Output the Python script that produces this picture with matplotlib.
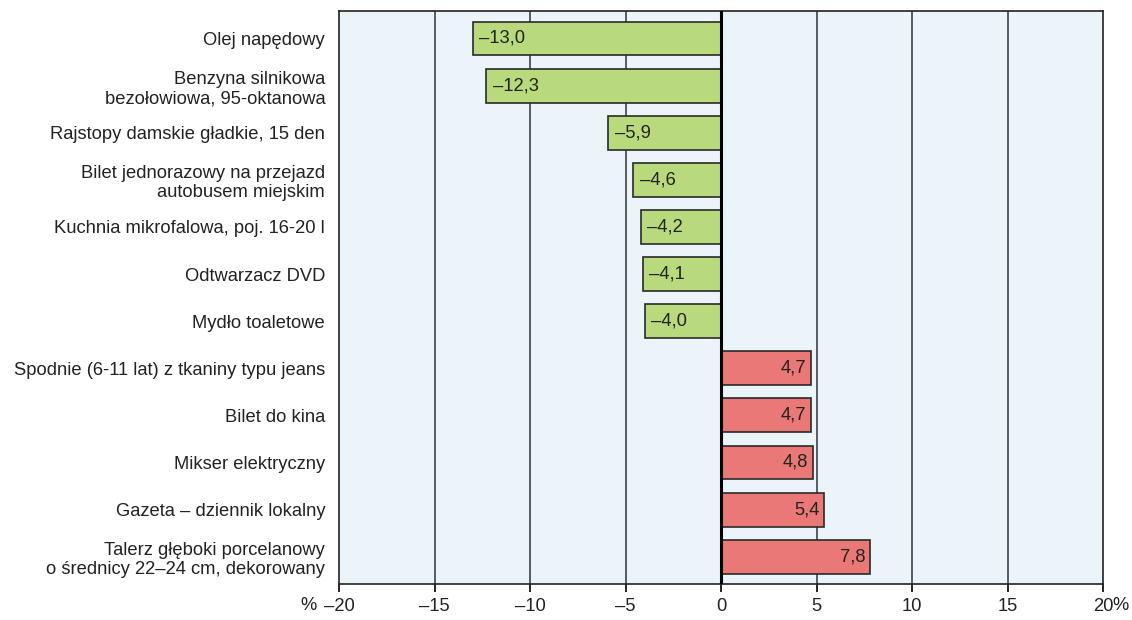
import numpy as np
import matplotlib.pyplot as plt
from matplotlib.transforms import offset_copy

plt.rcParams['font.family'] = ['Liberation Sans', 'DejaVu Sans']

# Data
categories = [
    "Olej napędowy",
    "Benzyna silnikowa\nbezołowiowa, 95-oktanowa",
    "Rajstopy damskie gładkie, 15 den",
    "Bilet jednorazowy na przejazd\nautobusem miejskim",
    "Kuchnia mikrofalowa, poj. 16-20 l",
    "Odtwarzacz DVD",
    "Mydło toaletowe",
    "Spodnie (6-11 lat) z tkaniny typu jeans",
    "Bilet do kina",
    "Mikser elektryczny",
    "Gazeta – dziennik lokalny",
    "Talerz głęboki porcelanowy\no średnicy 22–24 cm, dekorowany",
]
values = [-13.0, -12.3, -5.9, -4.6, -4.2, -4.1, -4.0, 4.7, 4.7, 4.8, 5.4, 7.8]
xticks = [-20, -15, -10, -5, 0, 5, 10, 15, 20]
xtick_labels = ["–20", "–15", "–10", "–5", "0", "5", "10", "15", "20"]

green = "#b9da7c"
red = "#e97877"
bg = "#eaf4f9"
fs = 13.2

fig = plt.figure(figsize=(11.32, 6.2), dpi=100)
ax = fig.add_axes([0.2995, 0.058, 0.6749, 0.924])
ax.set_facecolor(bg)

y = np.arange(len(categories))
colors = [green if v < 0 else red for v in values]

# grid lines
for t in xticks[1:-1]:
    if t != 0:
        ax.axvline(t, color="#333333", lw=1.1, zorder=1)

ax.barh(y, values, height=0.72, color=colors, edgecolor="#2a2a2a", lw=1.2, zorder=2)
ax.axvline(0, color="black", lw=2.2, zorder=3)

for yi, v in zip(y, values):
    txt = f"{abs(v):.1f}".replace(".", ",")
    if v < 0:
        ax.text(v + 0.35, yi, "–" + txt, ha="left", va="center", fontsize=fs, color="#222222", zorder=4)
    else:
        ax.text(v - 0.25, yi, txt, ha="right", va="center", fontsize=fs, color="#222222", zorder=4)

ax.set_xlim(-20, 20)
ax.set_ylim(len(categories) - 0.42, -0.58)
ax.set_yticks(y)
ax.set_yticklabels(categories, fontsize=fs, color="#222222", multialignment="right")
ax.tick_params(axis="y", length=0, pad=10)
ax.set_xticks(xticks)
ax.set_xticklabels(xtick_labels, fontsize=fs, color="#222222")
ax.tick_params(axis="x", direction="out", length=6, width=1.2, pad=4)

for s in ax.spines.values():
    s.set_color("#222222")
    s.set_linewidth(1.2)

# percent signs next to the end ticks
trans = ax.get_xaxis_transform()
ax.text(-20, -0.038, "%", transform=offset_copy(trans, fig=fig, x=-22, y=0, units="dots"),
        ha="right", va="center", fontsize=fs, color="#222222")
ax.text(20, -0.038, "%", transform=offset_copy(trans, fig=fig, x=9, y=0, units="dots"),
        ha="left", va="center", fontsize=fs, color="#222222")

plt.savefig("out.png", dpi=100)
